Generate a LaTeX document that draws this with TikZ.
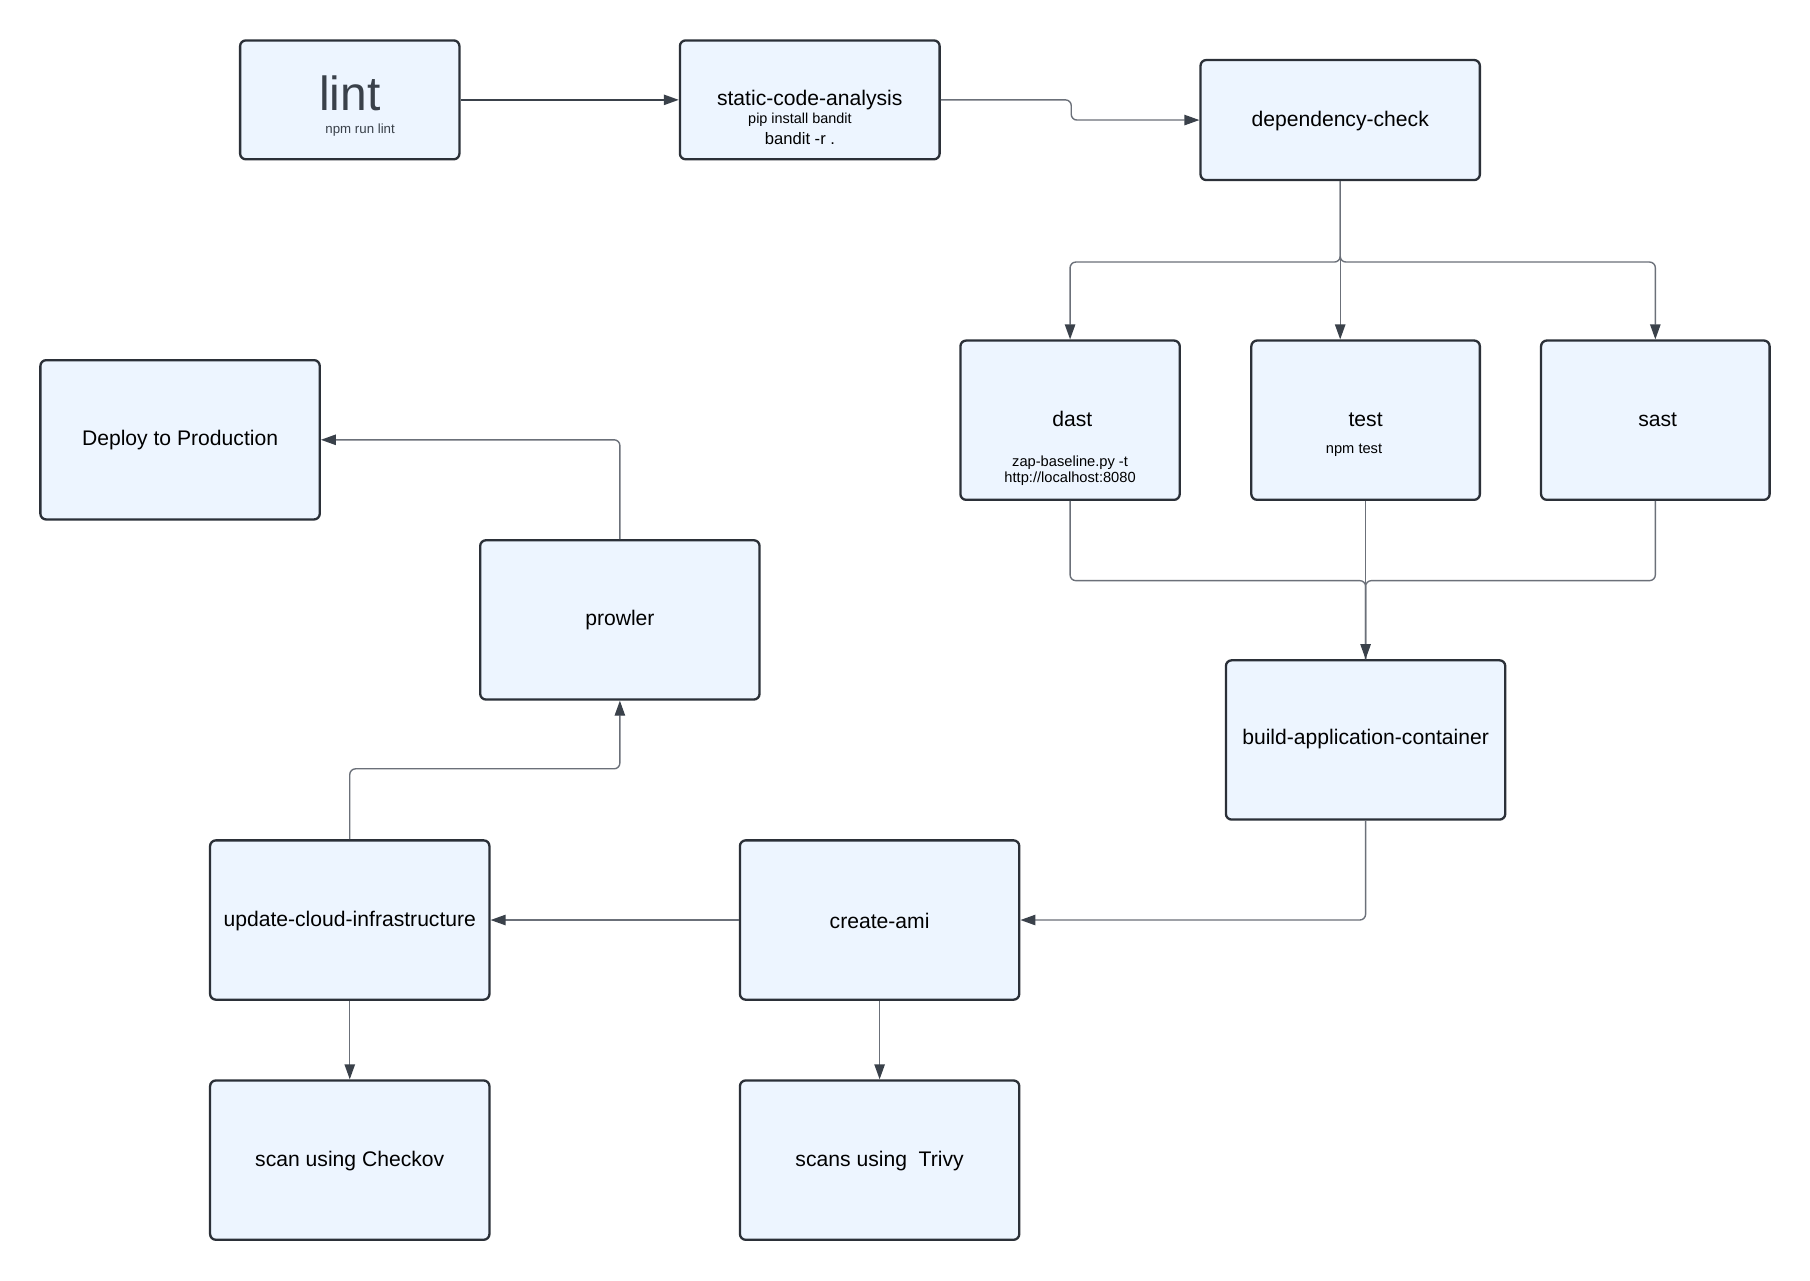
\documentclass[tikz,border=0pt]{standalone}
\usepackage{fontspec}
\setmainfont{Liberation Sans}
\usetikzlibrary{arrows.meta,calc}
\definecolor{boxfill}{HTML}{EDF5FF}
\definecolor{boxline}{HTML}{2B3038}
\definecolor{connline}{HTML}{6B7079}
\definecolor{tipcol}{HTML}{3A414A}
\tikzset{
  box/.style={draw=boxline,fill=boxfill,line width=2pt,rounded corners=5pt,inner sep=0pt},
  conn/.style={draw=connline,line width=1.2pt,rounded corners=5pt},
  arr/.style={conn,-{Triangle[length=13pt,width=9pt,fill=tipcol,color=tipcol]}},
  ttl/.style={font=\fontsize{18.3}{21}\selectfont,text=black,inner sep=0pt},
  sub/.style={font=\fontsize{12.7}{15}\selectfont,text=black,inner sep=0pt,align=center},
}
\begin{document}
\begin{tikzpicture}[x=1pt,y=-1pt]
\useasboundingbox[fill=white] (0,0) rectangle (1568,1109);
% boxes
\node[box,minimum width=190pt,minimum height=103pt] (lint) at (303,86.5) {};
\node[box,minimum width=225pt,minimum height=103pt] (static) at (701.5,86.5) {};
\node[box,minimum width=242pt,minimum height=104pt] (dep) at (1161,104) {};
\node[box,minimum width=190pt,minimum height=138pt] (dast) at (927,364) {};
\node[box,minimum width=198pt,minimum height=138pt] (test) at (1183,364) {};
\node[box,minimum width=198pt,minimum height=138pt] (sast) at (1434,364) {};
\node[box,minimum width=242pt,minimum height=138pt] (deploy) at (156,381) {};
\node[box,minimum width=242pt,minimum height=138pt] (prowler) at (537,537) {};
\node[box,minimum width=242pt,minimum height=138pt] (build) at (1183,641) {};
\node[box,minimum width=242pt,minimum height=138pt] (update) at (303,797) {};
\node[box,minimum width=242pt,minimum height=138pt] (ami) at (762,797) {};
\node[box,minimum width=242pt,minimum height=138pt] (checkov) at (303,1005) {};
\node[box,minimum width=242pt,minimum height=138pt] (trivy) at (762,1005) {};
% texts
\node[inner sep=0pt,font=\fontsize{41.5}{45}\selectfont,text=tipcol] (tlint) at (303,81) {lint};
\node[inner sep=0pt,font=\fontsize{11.5}{13}\selectfont,text=tipcol] (tlints) at (312,113) {npm run lint};
\node[ttl] (tstatic) at (701.5,87) {static-code-analysis};
\node[inner sep=0pt,font=\fontsize{12.5}{14}\selectfont] (tstat1) at (693,104) {pip install bandit};
\node[inner sep=0pt,font=\fontsize{14.4}{16}\selectfont] (tstat2) at (693,120) {bandit -r .};
\node[ttl] (tdep) at (1161,104.5) {dependency-check};
\node[ttl] (tdast) at (929,363) {dast};
\node[sub] (tdasts) at (927,408) {zap-baseline.py -t\\[-1.5pt]http://localhost:8080};
\node[ttl] (ttest) at (1183,363.5) {test};
\node[sub] (ttests) at (1173,390) {npm test};
\node[ttl] (tsast) at (1436,363.5) {sast};
\node[ttl] (tdeploy) at (156,381.5) {Deploy to Production};
\node[ttl] (tprowler) at (537,537.5) {prowler};
\node[ttl] (tbuild) at (1183,640.5) {build-application-container};
\node[ttl] (tupdate) at (303,797.5) {update-cloud-infrastructure};
\node[ttl] (tami) at (762,797.5) {create-ami};
\node[ttl] (tcheckov) at (303,1005.5) {scan using Checkov};
\node[ttl] (ttrivy) at (762,1005.5) {scans using\ \ Trivy};
% connectors
\draw[arr,draw=tipcol] (lint.east) -- (static.west);
\draw[arr] (static.east) -- ++(113,0) |- (dep.west);
\draw[arr] (dep.south) -- ++(0,70) -| (dast.north);
\draw[arr] (dep.south) -- (dep.south |- test.north);
\draw[arr] (dep.south) -- ++(0,70) -| (sast.north);
\draw[conn] (dast.south) -- ++(0,69) -| (build.north);
\draw[conn] (sast.south) -- ++(0,69) -| (build.north);
\draw[arr] (test.south) -- (build.north);
\draw[arr] (build.south) |- (ami.east);
\draw[arr] (ami.west) -- (update.east);
\draw[arr] (ami.south) -- (trivy.north);
\draw[arr] (update.south) -- (checkov.north);
\draw[arr] (update.north) -- ++(0,-61) -| (prowler.south);
\draw[arr] (prowler.north) |- (deploy.east);
\end{tikzpicture}
\end{document}
